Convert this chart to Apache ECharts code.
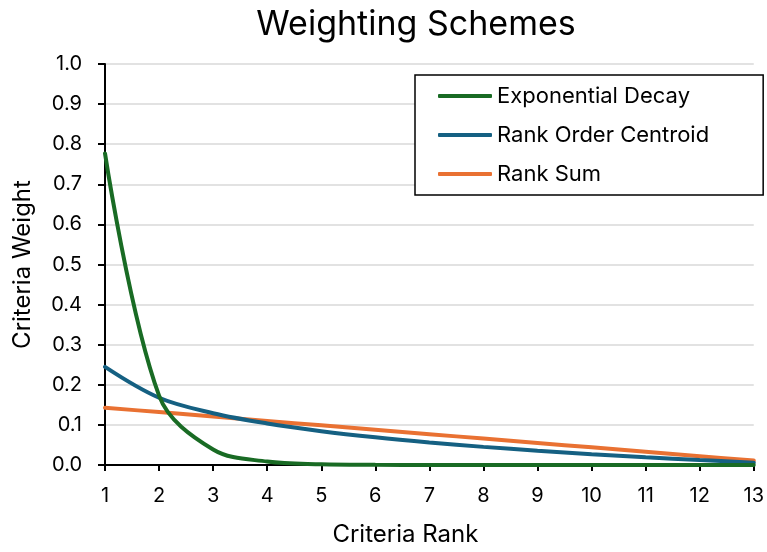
<!DOCTYPE html>
<html>
<head>
<meta charset="utf-8">
<script src="https://cdn.jsdelivr.net/npm/echarts@6/dist/echarts.min.js"></script>
<style>
  html, body { margin: 0; padding: 0; background: #fff; }
  #chart { width: 767px; height: 552px; }
</style>
</head>
<body>
<div id="chart"></div>
<script>
// Criteria ranks on the horizontal axis
const ranks = [1, 2, 3, 4, 5, 6, 7, 8, 9, 10, 11, 12, 13];

// Weight per rank for each scheme
const exponentialDecay = [0.777, 0.173, 0.0387, 0.0086, 0.0019, 0.0004, 0.0001, 0.0000, 0.0000, 0.0000, 0.0000, 0.0000, 0.0000];
const rankOrderCentroid = [0.2446, 0.1677, 0.1292, 0.1036, 0.0844, 0.0690, 0.0562, 0.0452, 0.0356, 0.0270, 0.0193, 0.0123, 0.0059];
const rankSum = [0.1429, 0.1319, 0.1209, 0.1099, 0.0989, 0.0879, 0.0769, 0.0659, 0.0549, 0.0440, 0.0330, 0.0220, 0.0110];

const seriesNames = ['Exponential Decay', 'Rank Order Centroid', 'Rank Sum'];
const seriesValues = [exponentialDecay, rankOrderCentroid, rankSum];
const seriesColors = ['#196B24', '#156082', '#E97132'];

const font = 'Inter, "Open Sans", sans-serif';

const chart = echarts.init(document.getElementById('chart'));

chart.setOption({
  animation: false,
  backgroundColor: '#ffffff',
  textStyle: { fontFamily: font, color: '#000' },
  title: {
    text: 'Weighting Schemes',
    left: 411,
    top: 3,
    textAlign: 'center',
    textStyle: { fontFamily: font, fontSize: 34, fontWeight: 'normal', color: '#000' }
  },
  legend: {
    orient: 'vertical',
    left: 415,
    top: 75,
    padding: [10, 54, 10, 23],
    itemGap: 17,
    itemWidth: 54,
    itemHeight: 4,
    icon: 'roundRect',
    borderColor: '#000',
    borderWidth: 1.5,
    backgroundColor: '#fff',
    textStyle: { fontFamily: font, fontSize: 22, color: '#000', lineHeight: 22 },
    data: seriesNames
  },
  grid: { left: 105, right: 13, top: 64, bottom: 83, containLabel: false },
  xAxis: {
    type: 'value',
    min: 1,
    max: 13,
    interval: 1,
    name: 'Criteria Rank',
    nameLocation: 'middle',
    nameGap: 58,
    nameTextStyle: { fontFamily: font, fontSize: 24, color: '#000', padding: [0, 48, 0, 0] },
    axisLine: { lineStyle: { color: '#000', width: 2 } },
    axisTick: { show: true, length: 6, lineStyle: { color: '#000', width: 2 } },
    axisLabel: { fontFamily: font, fontSize: 20, color: '#000', margin: 21 },
    splitLine: { show: false }
  },
  yAxis: {
    type: 'value',
    min: 0,
    max: 1,
    interval: 0.1,
    name: 'Criteria Weight',
    nameLocation: 'middle',
    nameGap: 70,
    nameTextStyle: { fontFamily: font, fontSize: 24, color: '#000' },
    axisLine: { show: true, lineStyle: { color: '#000', width: 2 } },
    axisTick: { show: true, length: 7, lineStyle: { color: '#000', width: 2 } },
    axisLabel: {
      fontFamily: font, fontSize: 20, color: '#000', margin: 23,
      formatter: v => v.toFixed(1)
    },
    splitLine: { show: true, lineStyle: { color: '#d9d9d9', width: 1.5 } }
  },
  series: seriesNames.map((name, i) => ({
    name: name,
    type: 'line',
    data: ranks.map((r, j) => [r, seriesValues[i][j]]),
    smooth: 0.35,
    showSymbol: false,
    symbol: 'none',
    color: seriesColors[i],
    lineStyle: { color: seriesColors[i], width: 4, cap: 'round' },
    z: 3 - i
  }))
});
</script>
</body>
</html>
